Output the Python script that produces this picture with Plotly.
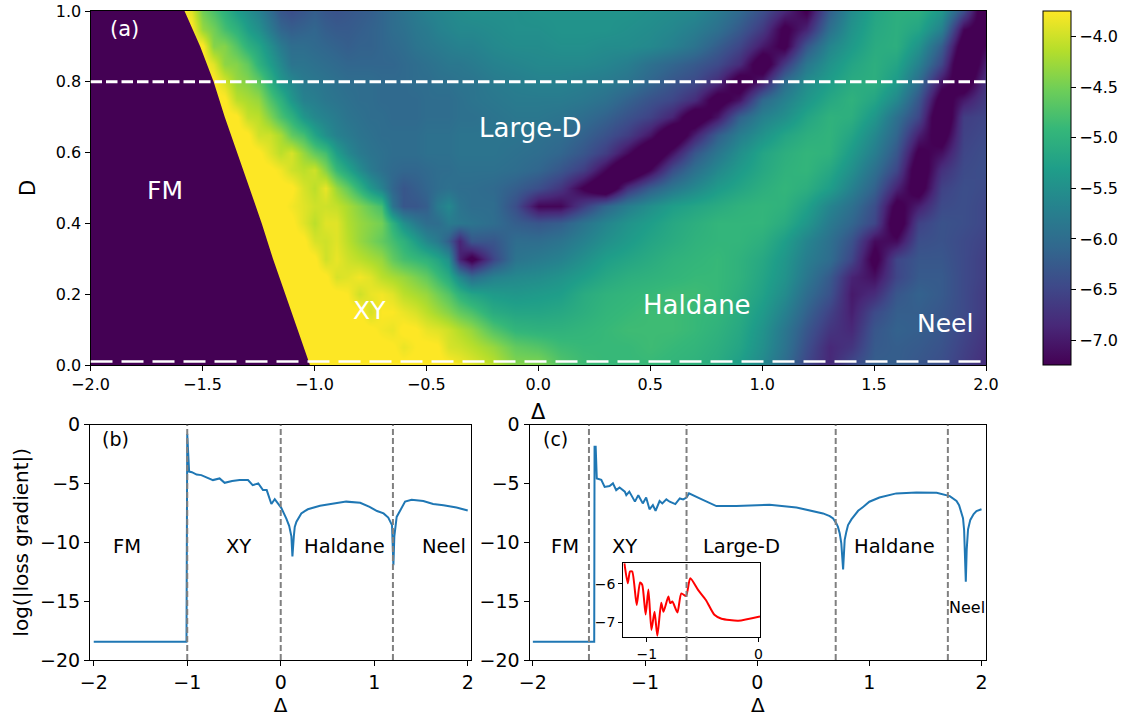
import plotly.graph_objects as go

W, H = 1133, 717
F, Y = -7.4, -3.7

delta_far_left = [-2.0, -1.9, -1.8, -1.7]
delta_xy = [round(-1.6 + 0.05 * i, 2) for i in range(27)]
delta_right = [round(-0.2 + 0.1 * i, 1) for i in range(23)]
delta_grid = delta_far_left + delta_xy + delta_right
d_grid = [round(0.05 * i, 2) for i in range(21)]

# log loss gradient, one row per D (0.00 ... 1.00). Columns: Delta -1.6 ... -0.3 in steps of 0.05
z_xy = [
[F,F,F,F,F,F,F,F,F,F, Y,Y, Y,Y,Y,Y,Y,-3.75,Y,Y,Y,Y,Y,Y,-3.72,-3.8,-3.9],
[F,F,F,F,F,F,F,F,F, Y,Y,Y, Y,Y,Y,Y,Y,Y,Y,-3.72,-3.85,-3.75,Y,-3.72,-3.95,-4.0,-4.1],
[F,F,F,F,F,F,F,F,F, Y,Y,Y, Y,Y,Y,Y,Y,Y,-3.8,-3.85,Y,-3.72,-3.85,-3.9,-4.0,-4.15,-4.3],
[F,F,F,F,F,F,F,F, Y,Y,Y,Y, Y,Y,Y,Y,Y,-3.95,-3.75,-3.75,-3.85,-3.95,-4.1,-4.25,-4.4,-4.6,-4.75],
[F,F,F,F,F,F,F,F, Y,Y,Y,Y, Y,Y,Y,-3.75,-4.0,-3.85,-3.8,-3.9,-4.1,-4.2,-4.3,-4.5,-4.7,-5.0,-5.2],
[F,F,F,F,F,F,F, Y,Y,Y,Y,Y, Y,Y,-3.95,-3.9,-3.8,-3.9,-4.1,-4.2,-4.3,-4.45,-4.6,-4.85,-5.1,-5.6,-6.0],
[F,F,F,F,F,F,F, Y,Y,Y,Y,Y, Y,-4.0,-3.85,-4.0,-4.1,-4.2,-4.3,-4.6,-4.8,-4.9,-5.0,-5.2,-5.5,-6.9,-7.4],
[F,F,F,F,F,F, Y,Y,Y,Y,Y,Y, -3.95,-4.0,-3.9,-4.1,-4.3,-4.45,-4.6,-4.8,-5.0,-5.3,-5.6,-5.8,-6.2,-6.9,-6.3],
[F,F,F,F,F,F, Y,Y,Y,Y,Y,-3.9, -4.1,-3.9,-3.9,-4.15,-4.3,-4.4,-4.5,-5.0,-5.5,-5.8,-6.0,-6.0,-5.8,-5.85,-5.9],
[F,F,F,F,F, Y,Y,Y,Y,Y,-3.8,-3.9, -4.0,-4.0,-4.05,-4.2,-4.4,-4.6,-4.8,-5.9,-6.3,-6.3,-6.2,-5.8,-5.6,-5.9,-6.0],
[F,F,F,F,F, Y,Y,Y,Y,Y,Y,-3.95, -4.1,-3.85,-4.3,-4.6,-5.0,-5.4,-5.7,-6.1,-6.3,-6.2,-6.1,-6.0,-5.95,-6.0,-6.0],
[F,F,F,F, Y,Y,Y,Y,Y,-3.8,-4.0,-4.1, -4.0,-4.4,-4.9,-5.2,-5.55,-5.8,-5.95,-6.05,-6.1,-6.1,-6.05,-6.0,-6.0,-5.95,-5.95],
[F,F,F,F, Y,Y,Y,Y,-3.9,-4.1,-3.95,-4.3, -4.6,-4.8,-5.3,-5.6,-5.8,-5.9,-5.95,-6.0,-6.0,-6.0,-5.95,-5.95,-5.95,-5.9,-5.9],
[F,F,F, Y,Y,Y,Y,-4.0,-4.0,-4.2,-4.6,-4.8, -5.2,-5.5,-5.7,-5.8,-5.9,-5.95,-6.0,-6.0,-6.0,-6.0,-5.95,-5.95,-5.95,-5.9,-5.9],
[F,F, Y,Y,Y,Y,-4.05,-4.1,-4.4,-4.75,-5.0,-5.4, -5.6,-5.7,-5.8,-5.9,-5.95,-6.0,-6.0,-6.05,-6.05,-6.05,-6.0,-6.0,-6.0,-5.95,-5.95],
[F,F, Y,Y,Y,-4.1,-4.2,-4.3,-4.7,-5.0,-5.4,-5.7, -5.75,-5.85,-5.9,-5.95,-6.0,-6.0,-6.05,-6.05,-6.05,-6.05,-6.0,-6.0,-6.0,-5.95,-5.9],
[F,F, Y,Y,-3.95,-4.3,-4.4,-4.6,-5.0,-5.4,-5.6,-5.8, -5.85,-5.9,-5.95,-6.0,-6.0,-6.0,-6.05,-6.05,-6.05,-6.0,-6.0,-5.95,-5.95,-5.9,-5.9],
[F, Y,Y,-3.9,-4.35,-4.4,-4.6,-5.0,-5.3,-5.6,-5.9,-5.9, -5.95,-6.0,-6.05,-6.1,-6.1,-6.1,-6.1,-6.1,-6.05,-6.0,-5.95,-5.9,-5.85,-5.85,-5.8],
[Y,Y,Y,-4.4,-4.4,-4.7,-5.0,-5.2,-5.5,-5.8,-6.0,-6.0, -6.05,-6.1,-6.15,-6.2,-6.15,-6.15,-6.1,-6.05,-6.0,-5.9,-5.85,-5.8,-5.75,-5.7,-5.7],
[Y,Y,-4.3,-4.5,-4.8,-5.0,-5.3,-5.5,-5.8,-6.1,-6.2,-6.15, -6.1,-6.2,-6.25,-6.25,-6.2,-6.15,-6.1,-6.0,-5.95,-5.85,-5.8,-5.7,-5.65,-5.6,-5.6],
[Y,-3.9,-4.5,-4.75,-5.0,-5.3,-5.5,-5.7,-6.0,-6.3,-6.4,-6.3, -6.2,-6.3,-6.35,-6.3,-6.25,-6.2,-6.1,-6.0,-5.9,-5.8,-5.7,-5.65,-5.6,-5.55,-5.5],
]

# Same rows. Columns: Delta -0.2 ... 2.0 in steps of 0.1
z_right = [
[-4.1,-4.4,-4.4,-4.7,-4.85,-4.9,-4.9,-4.9,-4.95,-5.0,-5.1,-5.3,-5.6,-6.0,-6.5,-6.85,-6.45,-6.2,-6.2,-6.3,-6.4,-6.6,-6.8],
[-4.3,-4.6,-4.7,-4.85,-4.9,-4.9,-4.9,-4.85,-4.9,-4.95,-5.05,-5.2,-5.5,-5.9,-6.4,-6.85,-6.7,-6.25,-6.2,-6.25,-6.35,-6.55,-6.75],
[-4.7,-4.95,-5.0,-5.0,-4.95,-4.9,-4.85,-4.85,-4.85,-4.9,-5.0,-5.15,-5.45,-5.85,-6.3,-6.7,-6.85,-6.3,-6.15,-6.2,-6.3,-6.5,-6.7],
[-5.1,-5.2,-5.2,-5.15,-5.05,-4.95,-4.9,-4.85,-4.85,-4.9,-4.95,-5.1,-5.35,-5.7,-6.15,-6.55,-6.95,-6.45,-6.2,-6.2,-6.3,-6.45,-6.65],
[-5.35,-5.4,-5.35,-5.3,-5.1,-5.0,-4.95,-4.9,-4.85,-4.85,-4.9,-5.05,-5.25,-5.55,-6.0,-6.35,-7.0,-6.8,-6.3,-6.15,-6.25,-6.45,-6.65],
[-5.7,-5.6,-5.55,-5.45,-5.3,-5.15,-5.05,-5.0,-4.95,-4.9,-4.9,-5.0,-5.2,-5.45,-5.85,-6.25,-6.9,-7.1,-6.5,-6.25,-6.25,-6.45,-6.6],
[-6.5,-5.9,-5.8,-5.7,-5.5,-5.3,-5.2,-5.1,-5.0,-4.95,-4.9,-5.0,-5.15,-5.4,-5.75,-6.0,-6.5,-7.4,-6.5,-6.3,-6.3,-6.45,-6.6],
[-6.3,-6.0,-6.0,-5.9,-5.7,-5.5,-5.35,-5.2,-5.1,-5.0,-4.95,-4.95,-5.05,-5.3,-5.65,-5.95,-6.35,-7.15,-7.15,-6.4,-6.35,-6.45,-6.55],
[-6.0,-6.2,-6.3,-6.2,-5.9,-5.65,-5.45,-5.3,-5.15,-5.05,-4.95,-4.95,-4.95,-5.1,-5.4,-5.8,-6.1,-6.5,-7.6,-6.55,-6.35,-6.4,-6.5],
[-6.0,-6.4,-7.2,-7.2,-6.6,-6.1,-5.75,-5.5,-5.3,-5.2,-5.1,-5.0,-4.95,-5.0,-5.25,-5.65,-5.95,-6.4,-7.4,-6.95,-6.45,-6.4,-6.5],
[-6.05,-6.2,-6.4,-6.7,-7.3,-7.8,-6.75,-6.2,-5.85,-5.6,-5.35,-5.2,-5.05,-4.95,-5.05,-5.3,-5.7,-6.15,-6.9,-7.5,-6.55,-6.4,-6.45],
[-5.95,-6.0,-6.1,-6.3,-6.6,-7.2,-7.9,-7.2,-6.4,-5.95,-5.6,-5.35,-5.15,-5.0,-4.95,-5.15,-5.5,-5.95,-6.5,-7.6,-6.75,-6.45,-6.4],
[-5.9,-5.95,-6.0,-6.1,-6.3,-6.6,-7.15,-7.8,-7.05,-6.3,-5.85,-5.5,-5.2,-5.05,-4.95,-5.0,-5.35,-5.75,-6.3,-7.35,-7.1,-6.5,-6.4],
[-5.9,-5.9,-5.95,-6.0,-6.15,-6.35,-6.6,-7.05,-7.8,-6.95,-6.2,-5.75,-5.45,-5.2,-5.05,-4.98,-5.2,-5.6,-6.1,-6.95,-7.5,-6.55,-6.45],
[-5.9,-5.85,-5.85,-5.9,-6.0,-6.15,-6.35,-6.55,-6.9,-7.65,-7.05,-6.15,-5.7,-5.5,-5.2,-5.0,-5.05,-5.4,-5.95,-6.5,-7.8,-6.6,-6.5],
[-5.85,-5.8,-5.8,-5.8,-5.85,-5.95,-6.15,-6.35,-6.5,-6.8,-7.5,-7.05,-6.05,-5.7,-5.4,-5.15,-5.0,-5.2,-5.6,-6.3,-7.5,-7.0,-6.6],
[-5.8,-5.75,-5.7,-5.7,-5.75,-5.8,-5.9,-6.1,-6.3,-6.45,-6.8,-7.55,-6.95,-6.0,-5.55,-5.3,-5.1,-5.05,-5.35,-6.0,-7.05,-7.6,-6.7],
[-5.7,-5.65,-5.6,-5.6,-5.6,-5.65,-5.75,-5.95,-6.1,-6.25,-6.45,-6.8,-7.6,-6.65,-5.85,-5.45,-5.2,-5.05,-5.2,-5.7,-6.5,-7.9,-6.9],
[-5.6,-5.55,-5.55,-5.5,-5.5,-5.55,-5.55,-5.6,-5.72,-5.9,-6.2,-6.5,-7.0,-7.35,-6.3,-5.65,-5.35,-5.1,-5.05,-5.45,-6.2,-7.6,-7.2],
[-5.55,-5.5,-5.5,-5.45,-5.45,-5.45,-5.5,-5.55,-5.62,-5.75,-5.95,-6.25,-6.65,-7.35,-6.9,-5.95,-5.45,-5.15,-5.05,-5.2,-5.7,-7.2,-7.5],
[-5.5,-5.5,-5.45,-5.45,-5.45,-5.45,-5.45,-5.5,-5.55,-5.6,-5.8,-6.05,-6.4,-6.85,-7.3,-6.2,-5.55,-5.2,-5.05,-5.05,-5.4,-6.4,-7.8],
]
z_map = [[F] * len(delta_far_left) + a + b for a, b in zip(z_xy, z_right)]

# FM / XY boundary
fm_edge_d = [0.0, 0.1, 0.2, 0.3, 0.4, 0.5, 0.6, 0.7, 0.8, 0.9, 1.0]
fm_edge_delta = [-1.02, -1.075, -1.13, -1.185, -1.235, -1.29, -1.345, -1.40, -1.45, -1.51, -1.58]

b_delta = [-2.0, -1.02, -1.008, -1.0, -0.99, -0.98, -0.95, -0.9, -0.85, -0.8, -0.725, -0.654, -0.6, -0.52, -0.44, -0.35, -0.3, -0.24, -0.19, -0.15, -0.118, -0.1, -0.064, -0.03, 0.007, 0.06, 0.09, 0.114, 0.125, 0.14, 0.15, 0.168, 0.193, 0.22, 0.257, 0.29, 0.42, 0.56, 0.7, 0.85, 0.95, 1.03, 1.1, 1.15, 1.19, 1.205, 1.215, 1.24, 1.275, 1.3, 1.33, 1.4, 1.525, 1.63, 1.74, 1.88, 2.0]
b_loss = [-18.45, -18.45, -18.45, -0.8, -2.5, -4.0, -4.05, -4.25, -4.3, -4.45, -4.72, -4.58, -4.95, -4.8, -4.72, -4.72, -5.15, -5.0, -5.57, -5.57, -6.4, -6.75, -6.35, -6.7, -7.1, -8.0, -8.6, -9.5, -11.2, -9.5, -8.7, -8.25, -7.9, -7.55, -7.35, -7.2, -6.9, -6.7, -6.55, -6.65, -7.0, -7.35, -7.55, -7.9, -8.55, -11.95, -9.5, -7.85, -7.3, -6.93, -6.55, -6.4, -6.5, -6.75, -6.85, -7.05, -7.3]

c_delta = [-2.0, -1.453, -1.45, -1.44, -1.43, -1.39, -1.36, -1.316, -1.286, -1.257, -1.227, -1.18, -1.167, -1.14, -1.09, -1.06, -1.02, -0.99, -0.96, -0.93, -0.906, -0.87, -0.846, -0.81, -0.78, -0.73, -0.69, -0.66, -0.63, -0.608, -0.513, -0.424, -0.364, -0.186, 0.11, 0.35, 0.53, 0.587, 0.647, 0.677, 0.706, 0.72, 0.736, 0.75, 0.766, 0.78, 0.795, 0.81, 0.84, 0.87, 0.9, 0.944, 1.0, 1.09, 1.24, 1.42, 1.6, 1.717, 1.777, 1.8, 1.82, 1.835, 1.845, 1.854, 1.86, 1.868, 1.88, 1.9, 1.93, 1.955, 2.0]
c_loss = [-18.45, -18.45, -1.9, -1.9, -4.58, -4.7, -5.3, -5.23, -5.0, -5.57, -5.35, -5.7, -6.0, -5.7, -6.55, -6.0, -6.7, -6.2, -7.2, -6.85, -7.33, -6.5, -6.7, -6.36, -6.56, -6.76, -6.28, -6.36, -6.2, -5.85, -6.28, -6.7, -6.93, -6.93, -6.82, -7.04, -7.41, -7.55, -7.78, -7.98, -8.4, -8.7, -9.25, -10.1, -12.3, -9.8, -9.1, -8.54, -8.06, -7.7, -7.33, -7.0, -6.56, -6.2, -5.85, -5.77, -5.8, -6.08, -6.5, -6.85, -7.41, -7.95, -8.97, -10.95, -13.35, -10.6, -8.9, -8.1, -7.6, -7.35, -7.2]

inset_delta = [-1.2, -1.17, -1.15, -1.13, -1.09, -1.06, -1.04, -1.01, -0.985, -0.958, -0.93, -0.905, -0.87, -0.85, -0.806, -0.79, -0.77, -0.725, -0.69, -0.648, -0.61, -0.54, -0.47, -0.394, -0.33, -0.18, 0.015]
inset_loss = [-5.48, -5.99, -5.69, -5.69, -6.55, -5.97, -6.03, -6.79, -6.15, -7.19, -6.72, -7.34, -6.49, -6.72, -6.33, -6.5, -6.46, -6.74, -6.25, -6.32, -5.86, -6.16, -6.42, -6.8, -6.9, -6.95, -6.84]

upper_cut_d = 0.8
lower_cut_d = 0.01
b_phase_lines = [-1.0, 0.0, 1.2]
c_phase_lines = [-1.5, -0.63, 0.7, 1.7]

map_labels = [("(a)", -1.85, 0.95, 21), ("FM", -1.667, 0.494, 25), ("XY", -0.752, 0.155, 25), ("Large-D", -0.033, 0.67, 26), ("Haldane", 0.708, 0.169, 26), ("Neel", 1.815, 0.118, 25)]
b_labels = [("(b)", -1.77, -1.19, 19), ("FM", -1.646, -10.4, 19.5), ("XY", -0.457, -10.4, 19.5), ("Haldane", 0.686, -10.4, 19.5), ("Neel", 1.75, -10.4, 19.5)]
c_labels = [("(c)", -1.8, -1.19, 19), ("FM", -1.717, -10.4, 19.5), ("XY", -1.18, -10.4, 19.5), ("Large-D", -0.14, -10.4, 19.5), ("Haldane", 1.227, -10.4, 19.5), ("Neel", 1.875, -15.53, 16)]

FONT = "DejaVu Sans"
BLUE = "#1f77b4"

def px_x(a, b):
    return [a / W, b / W]

def px_y(top, bottom):
    return [1 - bottom / H, 1 - top / H]

fig = go.Figure()
fig.add_trace(go.Heatmap(
    x=delta_grid, y=d_grid, z=z_map, zmin=-7.247, zmax=-3.746, zsmooth="best",
    colorscale="Viridis", xaxis="x", yaxis="y",
    colorbar=dict(x=1043 / W, xanchor="left", y=1 - 365 / H, yanchor="bottom", len=354 / H, lenmode="fraction",
                  thickness=28, thicknessmode="pixels", xpad=0, ypad=0, outlinewidth=1, outlinecolor="#000",
                  tickvals=[-4, -4.5, -5, -5.5, -6, -6.5, -7], ticktext=["−4.0", "−4.5", "−5.0", "−5.5", "−6.0", "−6.5", "−7.0"],
                  ticks="outside", ticklen=5, tickwidth=1, tickcolor="#000", tickfont=dict(size=16, family=FONT, color="#000")),
))
fig.add_trace(go.Scatter(
    x=[-2.0] + fm_edge_delta + [-2.0], y=[0.0] + fm_edge_d + [1.0], mode="lines", fill="toself",
    fillcolor="#440154", line=dict(width=0), xaxis="x", yaxis="y", showlegend=False, hoverinfo="skip",
))
fig.add_trace(go.Scatter(x=b_delta, y=b_loss, mode="lines", line=dict(color=BLUE, width=2), xaxis="x2", yaxis="y2", showlegend=False))
fig.add_trace(go.Scatter(x=c_delta, y=c_loss, mode="lines", line=dict(color=BLUE, width=2), xaxis="x3", yaxis="y3", showlegend=False))
fig.add_trace(go.Scatter(x=inset_delta, y=inset_loss, mode="lines", line=dict(color="red", width=2, shape="spline", smoothing=0.6), xaxis="x4", yaxis="y4", showlegend=False))

ax = dict(showgrid=False, zeroline=False, showline=True, linecolor="#000", linewidth=1, mirror=True,
          ticks="outside", ticklen=5, tickwidth=1, tickcolor="#000", automargin=False)
fig.update_layout(
    template="none",
    width=W, height=H, margin=dict(l=0, r=0, t=0, b=0), paper_bgcolor="white", plot_bgcolor="white",
    font=dict(family=FONT, color="#000"), showlegend=False,
    xaxis=dict(ax, domain=px_x(90.5, 986), range=[-2, 2], anchor="y", tickvals=[-2, -1.5, -1, -0.5, 0, 0.5, 1, 1.5, 2], tickformat=".1f",
               tickfont=dict(size=16), title=dict(text="Δ", font=dict(size=21), standoff=11)),
    yaxis=dict(ax, domain=px_y(11, 365), range=[0, 1], anchor="x", tickvals=[0, 0.2, 0.4, 0.6, 0.8, 1.0], tickformat=".1f",
               tickfont=dict(size=16), title=dict(text="D", font=dict(size=21), standoff=14)),
    xaxis2=dict(ax, domain=px_x(90, 471), range=[-2.04, 2.035], anchor="y2", tickvals=[-2, -1, 0, 1, 2],
                tickfont=dict(size=19), title=dict(text="Δ", font=dict(size=20), standoff=2)),
    yaxis2=dict(ax, domain=px_y(424.5, 660), range=[-20, 0], anchor="x2", tickvals=[0, -5, -10, -15, -20],
                tickfont=dict(size=19), title=dict(text="log(|loss gradient|)", font=dict(size=20), standoff=6)),
    xaxis3=dict(ax, domain=px_x(529.5, 986), range=[-2.03, 2.04], anchor="y3", tickvals=[-2, -1, 0, 1, 2],
                tickfont=dict(size=19), title=dict(text="Δ", font=dict(size=20), standoff=2)),
    yaxis3=dict(ax, domain=px_y(424.5, 660), range=[-20, 0], anchor="x3", tickvals=[0, -5, -10, -15, -20],
                tickfont=dict(size=19)),
    xaxis4=dict(ax, domain=px_x(623.3, 760), range=[-1.21, 0.015], anchor="y4", tickvals=[-1, 0],
                tickfont=dict(size=14), ticklen=4),
    yaxis4=dict(ax, domain=px_y(563, 637), range=[-7.37, -5.47], anchor="x4", tickvals=[-6, -7],
                tickfont=dict(size=14), ticklen=4),
)

shapes = [
    dict(type="line", xref="x", yref="y", x0=-2, x1=2, y0=upper_cut_d, y1=upper_cut_d, layer="above",
         line=dict(color="white", width=3, dash="11.5px,4px")),
    dict(type="line", xref="x", yref="y", x0=-2, x1=2, y0=lower_cut_d, y1=lower_cut_d, layer="above",
         line=dict(color="white", width=2.5, dash="22px,9px")),
]
for v in b_phase_lines:
    shapes.append(dict(type="line", xref="x2", yref="y2", x0=v, x1=v, y0=-20, y1=0, layer="above",
                       line=dict(color="gray", width=2, dash="6px,3px")))
for v in c_phase_lines:
    shapes.append(dict(type="line", xref="x3", yref="y3", x0=v, x1=v, y0=-20, y1=0, layer="above",
                       line=dict(color="gray", width=2, dash="6px,3px")))
fig.update_layout(shapes=shapes)

ann = []
for labels, xr, yr, col in [(map_labels, "x", "y", "white"), (b_labels, "x2", "y2", "black"), (c_labels, "x3", "y3", "black")]:
    for text, x, y, size in labels:
        ann.append(dict(text=text, x=x, y=y, xref=xr, yref=yr, showarrow=False, xanchor="center", yanchor="middle",
                        font=dict(size=size, color=col, family=FONT)))
fig.update_layout(annotations=ann)

fig.write_html("out.html", config={"displayModeBar": False},
               post_script="document.body.style.margin='0';document.body.style.overflow='hidden';")
